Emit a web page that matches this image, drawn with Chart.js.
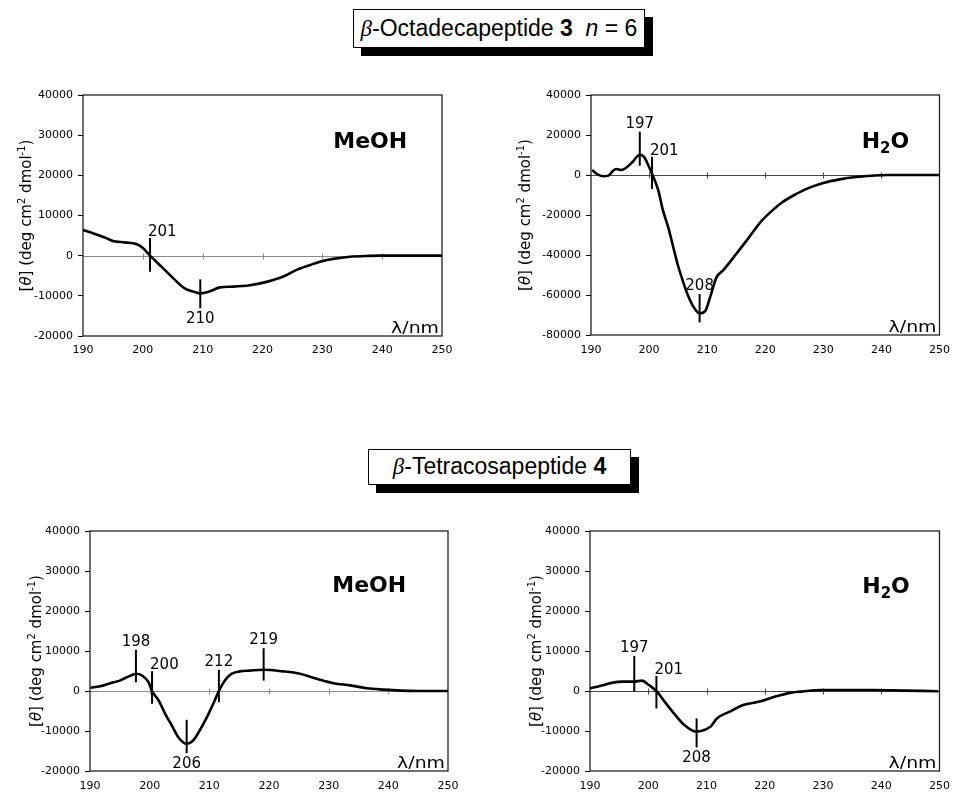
<!DOCTYPE html>
<html lang="en">
<head>
<meta charset="UTF-8">
<title>CD spectra of beta-peptides 3 and 4</title>
<script src="https://cdn.jsdelivr.net/npm/chart.js@4.4.1/dist/chart.umd.min.js"></script>
<style>
  body { margin: 0; background: #fff; width: 959px; height: 792px; position: relative; overflow: hidden;
         font-family: 'Liberation Sans', Arial, sans-serif; }
  canvas.panel { position: absolute; }
  .hdr { position: absolute; box-sizing: border-box; border: 1.5px solid #000; background: #fff;
         box-shadow: 8px 8px 0 #000; font-size: 23px; text-align: center; color: #000; white-space: nowrap; }
  .hdr .beta { font-family: 'Liberation Serif', serif; font-style: italic; }
</style>
</head>
<body>

<div class="hdr" style="left:353px;top:9px;width:292px;height:39px;line-height:36px"><span class="beta">β</span>-Octadecapeptide <b>3</b>&nbsp; <i>n</i> = 6</div>
<div class="hdr" style="left:368px;top:449px;width:263px;height:36px;line-height:33px"><span class="beta">β</span>-Tetracosapeptide <b>4</b></div>

<canvas id="c1" class="panel" style="left:0;top:60px" width="480" height="300"></canvas>
<canvas id="c2" class="panel" style="left:480px;top:60px" width="479" height="300"></canvas>
<canvas id="c3" class="panel" style="left:0;top:500px" width="480" height="292"></canvas>
<canvas id="c4" class="panel" style="left:480px;top:500px" width="479" height="292"></canvas>

<script>
// --- data (wavelength in nm, [theta] in deg cm2 dmol-1) ---

// beta-octadecapeptide 3, MeOH
const octaMeohNm    = [190, 192, 194, 195, 197, 199, 200.1, 201.2, 203.4, 205.1, 207, 208.5, 209.6, 211, 212.9, 215.1, 217.9, 219.6, 221.8, 223.5, 225.7, 228, 229.6, 231.8, 234.6, 238, 240, 245, 250];
const octaMeohTheta = [6400, 5400, 4300, 3650, 3300, 2850, 1800, 0, -3150, -5650, -8150, -8950, -9400, -9000, -7900, -7700, -7350, -6900, -6050, -5200, -3550, -2300, -1500, -800, -250, -50, 0, 0, 0];

// beta-octadecapeptide 3, H2O
const octaWaterNm    = [190.2, 191, 192.1, 193, 193.8, 194.3, 195.2, 196, 197.1, 198.4, 199.1, 199.9, 200.6, 201.6, 202.4, 203.3, 204.1, 204.9, 205.8, 206.6, 207.7, 208.7, 209.7, 210.5, 211.6, 212.7, 215, 217.2, 219.4, 221.7, 223, 225, 227.2, 230, 232.8, 235.6, 238.4, 241, 245, 250];
const octaWaterTheta = [2500, 500, -650, -300, 2150, 3000, 2500, 3500, 6350, 10150, 9150, 4650, 0, -7850, -17850, -26150, -35350, -44500, -52850, -59500, -66200, -69200, -67850, -61200, -51200, -47850, -39500, -31200, -22850, -16500, -13500, -10000, -6800, -4000, -2200, -1000, -350, 0, 0, 0];

// beta-tetracosapeptide 4, MeOH
const tetraMeohNm    = [190.1, 191.7, 193.4, 195, 196.4, 197.8, 198.9, 199.8, 200.4, 201.5, 202.6, 203.7, 204.8, 206.2, 207.3, 208.4, 209.6, 210.7, 211.6, 212.6, 213.7, 215.1, 216.8, 219, 222.4, 225.2, 228, 230.8, 233.6, 236.4, 239.2, 242, 245, 250];
const tetraMeohTheta = [800, 1200, 1950, 2600, 3600, 4300, 3700, 2200, 0, -2350, -5700, -8600, -11550, -13200, -12350, -9850, -6550, -3050, 0, 2600, 4300, 4900, 5100, 5300, 4900, 4300, 3050, 1950, 1400, 700, 350, 100, 0, 0];

// beta-tetracosapeptide 4, H2O
const tetraWaterNm    = [190, 191.7, 193.9, 195.6, 197.6, 198.9, 200.1, 201.5, 202.8, 204.5, 206.2, 208.2, 209.6, 210.7, 211.8, 214, 216.3, 219.1, 221.8, 224.6, 226.3, 229.7, 233, 238.6, 244.2, 249.8];
const tetraWaterTheta = [650, 1250, 2100, 2350, 2350, 2600, 1500, -150, -2650, -5750, -8500, -10150, -9750, -8900, -6850, -5150, -3500, -2650, -1400, -400, -150, 250, 250, 250, 100, -50];

// band markers: wavelength, marker top / bottom ([theta]), label
const octaMeohMarks  = [[201.2, 4400, -4000, '201', 'aboveRight'], [209.6, -5900, -13100, '210', 'below']];
const octaWaterMarks = [[198.4, 21650, 4650, '197', 'above'], [200.5, 9150, -7000, '201', 'aboveRight'], [208.7, -59500, -73700, '208', 'above']];
const tetraMeohMarks = [[197.7, 10300, 2200, '198', 'above'], [200.4, 4950, -3200, '200', 'aboveRight'], [206.2, -7200, -15550, '206', 'below'],
                        [211.6, 5300, -2800, '212', 'above'], [219.1, 10700, 2600, '219', 'above']];
const tetraWaterMarks = [[197.6, 8750, -150, '197', 'above'], [201.4, 3750, -4350, '201', 'aboveRight'], [208.3, -6850, -14100, '208', 'below']];

// axes
const nmMin = 190, nmMax = 250, nmStep = 10;
const yRangeSmall = [-20000, 40000, 10000];
const yRangeLarge = [-80000, 40000, 20000];

// --- drawing helpers ---
const FONT = "'DejaVu Sans', sans-serif";

function stretchText(ctx, txt, x, y, sx, align) {
    const w = ctx.measureText(txt).width * sx;
    const x0 = align === 'center' ? x - w / 2 : (align === 'right' ? x - w : x);
    ctx.save();
    ctx.translate(x0, y);
    ctx.scale(sx, 1);
    ctx.textAlign = 'left';
    ctx.fillText(txt, 0, 0);
    ctx.restore();
}

function drawYTitle(ctx, cx, cy) {
    const N = '15px ' + FONT, I = 'italic 15px ' + FONT, S = '10px ' + FONT;
    const parts = [['[', N], ['θ', I], ['] (deg cm', N], ['2', S], [' dmol', N], ['-1', S], [')', N]];
    let w = 0;
    parts.forEach(p => { ctx.font = p[1]; w += ctx.measureText(p[0]).width; });
    ctx.save();
    ctx.translate(cx, cy);
    ctx.rotate(-Math.PI / 2);
    ctx.textAlign = 'left';
    ctx.textBaseline = 'alphabetic';
    let xx = -w / 2;
    parts.forEach(p => {
        ctx.font = p[1];
        ctx.fillText(p[0], xx, p[1] === S ? -1 : 5);
        xx += ctx.measureText(p[0]).width;
    });
    ctx.restore();
}

function drawSolvent(ctx, solvent, cx, by) {
    ctx.textBaseline = 'alphabetic';
    ctx.textAlign = 'left';
    const big = 'bold 22px ' + FONT, sub = 'bold 15px ' + FONT;
    const parts = solvent === 'H2O' ? [['H', big, 0], ['2', sub, 5], ['O', big, 0]] : [['MeOH', big, 0]];
    let w = 0;
    parts.forEach(p => { ctx.font = p[1]; w += ctx.measureText(p[0]).width; });
    let xx = cx - w / 2;
    parts.forEach(p => {
        ctx.font = p[1];
        ctx.fillText(p[0], xx, by + p[2]);
        xx += ctx.measureText(p[0]).width;
    });
}

function decorFor(P) {
    return {
        id: 'decor',
        beforeDatasetsDraw(chart) {
            const { ctx, chartArea: a, scales: { x, y } } = chart;
            ctx.save();
            // zero line with small cross ticks (Excel style axis at 0)
            const y0 = Math.round(y.getPixelForValue(0)) + 0.5;
            ctx.strokeStyle = P.zeroColor;
            ctx.lineWidth = 1;
            ctx.beginPath();
            ctx.moveTo(a.left, y0);
            ctx.lineTo(a.right, y0);
            x.ticks.forEach(t => {
                if (t.value > x.min && t.value < x.max) {
                    const px = Math.round(x.getPixelForValue(t.value)) + 0.5;
                    ctx.moveTo(px, y0 - 3);
                    ctx.lineTo(px, y0 + 3);
                }
            });
            ctx.stroke();
            // plot frame
            ctx.strokeStyle = '#222';
            ctx.lineWidth = 1.3;
            ctx.strokeRect(a.left, a.top, a.right - a.left, a.bottom - a.top);
            ctx.restore();
        },
        afterDatasetsDraw(chart) {
            const { ctx, chartArea: a, scales: { x, y } } = chart;
            ctx.save();
            ctx.strokeStyle = '#000';
            ctx.fillStyle = '#000';
            ctx.lineWidth = 2;
            ctx.font = '15px ' + FONT;
            P.marks.forEach(m => {
                const px = x.getPixelForValue(m[0]);
                const top = y.getPixelForValue(m[1]);
                const bot = y.getPixelForValue(m[2]);
                ctx.beginPath();
                ctx.moveTo(px, top);
                ctx.lineTo(px, bot);
                ctx.stroke();
                if (m[4] === 'above') {
                    ctx.textAlign = 'center'; ctx.textBaseline = 'alphabetic';
                    ctx.fillText(m[3], px, top - 4);
                } else if (m[4] === 'aboveRight') {
                    ctx.textAlign = 'left'; ctx.textBaseline = 'alphabetic';
                    ctx.fillText(m[3], px - 2, top - 2);
                } else {
                    ctx.textAlign = 'center'; ctx.textBaseline = 'top';
                    ctx.fillText(m[3], px, bot + 3);
                }
            });
            // solvent label
            drawSolvent(ctx, P.solvent, a.left + P.solvX * (a.right - a.left), a.top + P.solvDy);
            // wavelength unit in the corner
            ctx.font = '16px ' + FONT;
            ctx.textBaseline = 'alphabetic';
            stretchText(ctx, 'λ/nm', a.right - 3, a.bottom - 3, 1.18, 'right');
            // y title
            drawYTitle(ctx, a.left - P.titleOff, (a.top + a.bottom) / 2);
            ctx.restore();
        }
    };
}

function makePanel(P) {
    const pts = P.nm.map((v, i) => ({ x: v, y: P.theta[i] }));
    return new Chart(document.getElementById(P.id), {
        type: 'scatter',
        data: {
            datasets: [{
                data: pts,
                showLine: true,
                borderColor: '#000',
                borderWidth: 2.6,
                pointRadius: 0,
                tension: 0.4,
                cubicInterpolationMode: 'monotone',
                clip: false
            }]
        },
        options: {
            responsive: false,
            animation: false,
            devicePixelRatio: 1,
            events: [],
            layout: { padding: { top: P.padTop, right: P.padRight, left: 0, bottom: 0 } },
            plugins: { legend: { display: false }, tooltip: { enabled: false } },
            scales: {
                x: {
                    type: 'linear',
                    min: nmMin, max: nmMax,
                    afterFit(s) { s.height = P.axisH; },
                    ticks: { stepSize: nmStep, color: '#000', padding: P.xPad, maxRotation: 0,
                             font: { family: FONT, size: 11 }, callback: v => String(v) },
                    grid: { drawOnChartArea: false, drawTicks: false },
                    border: { display: false }
                },
                y: {
                    min: P.yRange[0], max: P.yRange[1],
                    afterFit(s) { s.width = P.axisW; },
                    ticks: { stepSize: P.yRange[2], color: '#000', padding: 5,
                             font: { family: FONT, size: 11 }, callback: v => String(v) },
                    grid: { drawOnChartArea: false, drawTicks: true, tickLength: 5, color: '#000' },
                    border: { display: false }
                }
            }
        },
        plugins: [decorFor(P)]
    });
}

makePanel({ id: 'c1', nm: octaMeohNm, theta: octaMeohTheta, marks: octaMeohMarks, yRange: yRangeSmall,
            solvent: 'MeOH', solvX: 0.80, solvDy: 53, zeroColor: '#8a8a8a', titleOff: 57,
            padTop: 35, padRight: 38, axisW: 83, axisH: 24, xPad: 8 });
makePanel({ id: 'c2', nm: octaWaterNm, theta: octaWaterTheta, marks: octaWaterMarks, yRange: yRangeLarge,
            solvent: 'H2O', solvX: 0.845, solvDy: 53, zeroColor: '#444', titleOff: 66,
            padTop: 35, padRight: 10, axisW: 111, axisH: 25, xPad: 9 });
makePanel({ id: 'c3', nm: tetraMeohNm, theta: tetraMeohTheta, marks: tetraMeohMarks, yRange: yRangeSmall,
            solvent: 'MeOH', solvX: 0.78, solvDy: 61, zeroColor: '#8a8a8a', titleOff: 54,
            padTop: 31, padRight: 32, axisW: 90, axisH: 21, xPad: 9 });
makePanel({ id: 'c4', nm: tetraWaterNm, theta: tetraWaterTheta, marks: tetraWaterMarks, yRange: yRangeSmall,
            solvent: 'H2O', solvX: 0.847, solvDy: 62, zeroColor: '#444', titleOff: 54,
            padTop: 31, padRight: 11, axisW: 110, axisH: 21, xPad: 9 });
</script>
</body>
</html>
